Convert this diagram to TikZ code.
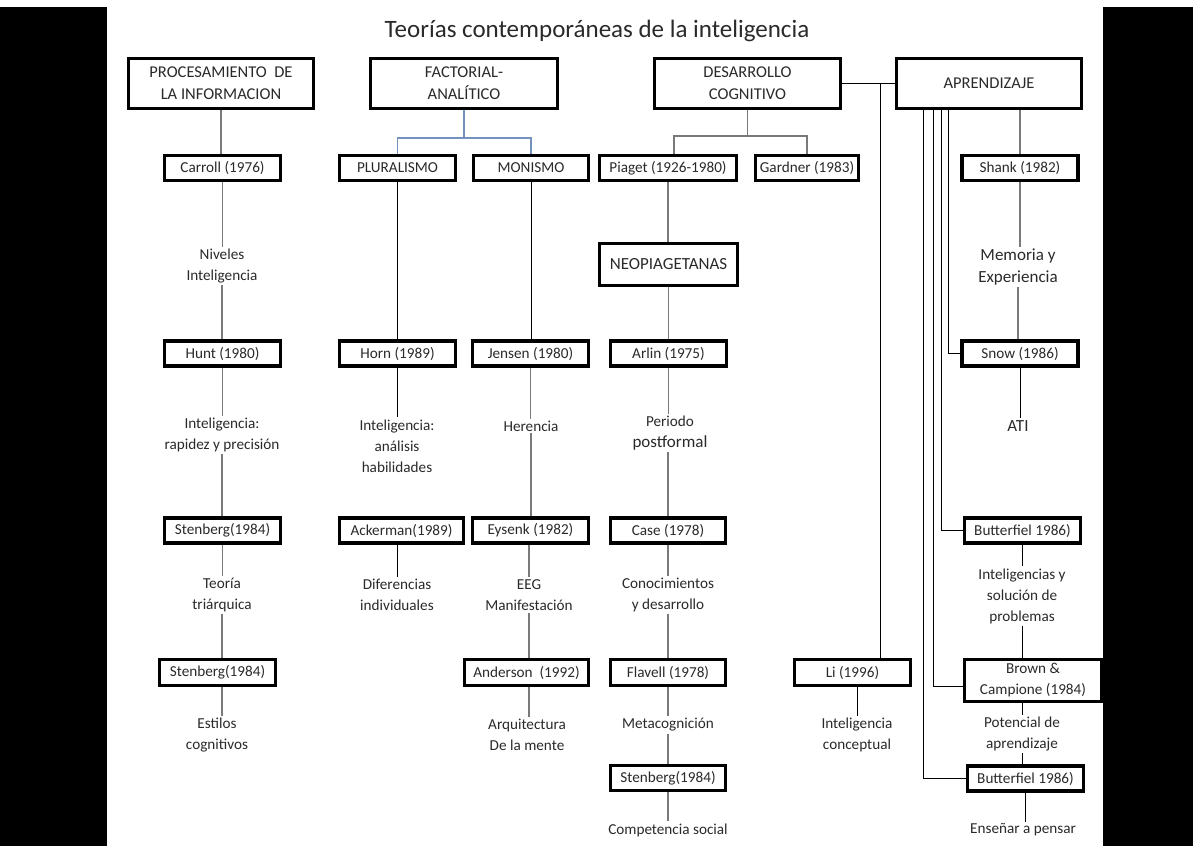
\documentclass[tikz,border=0pt]{standalone}
\usepackage{fontspec}
\setmainfont{Carlito}
\definecolor{txt}{HTML}{2A2A2A}
\definecolor{gl}{HTML}{7A7A7A}
\definecolor{bl}{HTML}{7392BC}
\begin{document}
\begin{tikzpicture}[x=1pt,y=-1pt,
 box/.style={draw=black,line width=3.2pt,inner sep=0pt,align=center,text=txt,font=\fontsize{15.2}{21}\selectfont},
 hbox/.style={box,font=\fontsize{16.5}{22}\selectfont,minimum height=50},
 rowbox/.style={box,minimum height=25},
 lbl/.style={inner sep=2pt,align=center,text=txt,font=\fontsize{15.2}{21}\selectfont},
 bigf/.style={font=\fontsize{17}{22}\selectfont},
 gline/.style={draw=gl,line width=1.2pt},
 kline/.style={draw=black,line width=0.9pt},
 bline/.style={draw=bl,line width=1.2pt}]
\useasboundingbox (0,0) rectangle (1193,846);
\fill[white] (0,0) rectangle (1193,846);

\node[text=txt,font=\fontsize{25}{30}\selectfont] (title) at (597,31) {Teorías contemporáneas de la inteligencia};

% headers
\node[hbox,minimum width=185] (proc) at (221,83.5) {PROCESAMIENTO\ \ DE\\LA INFORMACION};
\node[hbox,minimum width=187] (fact) at (464,83.5) {FACTORIAL-\\ANALÍTICO};
\node[hbox,minimum width=186] (desa) at (747.5,83.5) {DESARROLLO\\COGNITIVO};
\node[hbox,minimum width=185] (apre) at (989,83.5) {APRENDIZAJE};

% row 1
\node[rowbox,minimum width=116] (carroll) at (222.5,168) {Carroll (1976)};
\node[rowbox,minimum width=116] (plur) at (397.5,168) {PLURALISMO};
\node[rowbox,minimum width=115] (mon) at (531,168) {MONISMO};
\node[rowbox,minimum width=137] (piaget) at (668,168) {Piaget (1926-1980)};
\node[rowbox,minimum width=103] (gardner) at (807,168) {Gardner (1983)};
\node[rowbox,minimum width=116] (shank) at (1020,168) {Shank (1982)};

\node[box,minimum width=138,minimum height=42,bigf] (neo) at (668.5,264.5) {NEOPIAGETANAS};

% row 2
\node[rowbox,minimum width=116] (hunt) at (222.5,353.5) {Hunt (1980)};
\node[rowbox,minimum width=116] (horn) at (397.5,353.5) {Horn (1989)};
\node[rowbox,minimum width=116] (jen) at (530.5,353.5) {Jensen (1980)};
\node[rowbox,minimum width=116] (arlin) at (668.5,353.5) {Arlin (1975)};
\node[rowbox,minimum width=116] (snow) at (1020,353.5) {Snow (1986)};

% row 3
\node[rowbox,minimum width=116] (sten1) at (222.5,530.5) {Stenberg(1984)};
\node[rowbox,minimum width=124] (ack) at (401.5,530.5) {Ackerman(1989)};
\node[rowbox,minimum width=116] (eys) at (530.5,530.5) {Eysenk (1982)};
\node[rowbox,minimum width=115] (case) at (668,530.5) {Case (1978)};
\node[rowbox,minimum width=116] (butt1) at (1022.5,530.5) {Butterfiel 1986)};

% row 4
\node[rowbox,minimum width=116,minimum height=26] (sten2) at (217.5,672.5) {Stenberg(1984)};
\node[rowbox,minimum width=124,minimum height=26] (and) at (526.5,672.5) {Anderson\ \ (1992)};
\node[rowbox,minimum width=115,minimum height=26] (flav) at (668,672.5) {Flavell (1978)};
\node[rowbox,minimum width=116,minimum height=26] (li) at (852.5,672.5) {Li (1996)};
\node[box,minimum width=137,minimum height=42] (brown) at (1033,680.5) {Brown \&\\Campione (1984)};

\node[rowbox,minimum width=115] (sten3) at (668,778) {Stenberg(1984)};
\node[rowbox,minimum width=116] (butt2) at (1025.5,778.5) {Butterfiel 1986)};

% labels
\node[lbl] (niv) at (222,266) {Niveles\\Inteligencia};
\node[lbl] (int1) at (222,435) {Inteligencia:\\rapidez y precisión};
\node[lbl] (teo) at (222,595) {Teoría\\triárquica};
\node[lbl] (est) at (217,735) {Estilos\\cognitivos};
\node[lbl] (ihab) at (397,446) {Inteligencia:\\análisis\\habilidades};
\node[lbl] (dif) at (397,595) {Diferencias\\individuales};
\node[lbl] (her) at (531,426) {Herencia};
\node[lbl] (eeg) at (529,595) {EEG\\Manifestación};
\node[lbl] (arq) at (527,735) {Arquitectura\\De la mente};
\node[lbl] (per) at (670,433) {Periodo\\\fontsize{17}{21}\selectfont postformal};
\node[lbl] (cono) at (668,595) {Conocimientos\\y desarrollo};
\node[lbl] (meta) at (668,725) {Metacognición};
\node[lbl] (comp) at (668,830) {Competencia social};
\node[lbl] (icon) at (857,735) {Inteligencia\\conceptual};
\node[lbl,bigf] (mem) at (1018,267) {Memoria y\\Experiencia};
\node[lbl,bigf] (ati) at (1018,426) {ATI};
\node[lbl] (intsol) at (1022,596) {Inteligencias y\\solución de\\problemas};
\node[lbl] (pot) at (1022,734) {Potencial de\\aprendizaje};
\node[lbl] (ens) at (1023,830) {Enseñar a pensar};

% column 1
\draw[gline] (proc.south) -- (proc.south |- carroll.north);
\draw[gline] (carroll.south) -- (carroll.south |- niv.north);
\draw[gline] (niv.south) -- (niv.south |- hunt.north);
\draw[gline] (hunt.south) -- (hunt.south |- int1.north);
\draw[gline] (int1.south) -- (int1.south |- sten1.north);
\draw[gline] (sten1.south) -- (sten1.south |- teo.north);
\draw[gline] (teo.south) -- (teo.south |- sten2.north);
\draw[gline] (teo.south |- sten2.south) -- (teo.south |- est.north);

% column 2
\coordinate (fj) at (465,138);
\draw[bline] (fact.south) -- (fact.south |- fj);
\draw[bline] (plur.north) |- (fj) -| (mon.north);
\draw[kline] (plur.south) -- (plur.south |- horn.north);
\draw[kline] (horn.south) -- (horn.south |- ihab.north);
\draw[kline] (dif.north |- ack.south) -- (dif.north);

% column 3
\draw[kline] (mon.south) -- (mon.south |- jen.north);
\draw[gline] (jen.south) -- (jen.south |- her.north);
\draw[gline] (her.south) -- (her.south |- eys.north);
\draw[gline] (eeg.north |- eys.south) -- (eeg.north);
\draw[gline] (eeg.south) -- (eeg.south |- and.north);
\draw[gline] (eeg.south |- and.south) -- (eeg.south |- arq.north);

% column 4
\coordinate (dj) at (746,136);
\draw[gline] (desa.south) -- (desa.south |- dj);
\draw[gline] ([xshift=6pt]piaget.north) |- (dj) -| (gardner.north);
\draw[gline] (piaget.south) -- (piaget.south |- neo.north);
\draw[gline] (neo.south) -- (neo.south |- arlin.north);
\draw[gline] (arlin.south) -- (arlin.south |- per.north);
\draw[gline] (per.south -| case.north) -- (case.north);
\draw[gline] (case.south) -- (case.south |- cono.north);
\draw[gline] (cono.south) -- (cono.south |- flav.north);
\draw[gline] (flav.south) -- (flav.south |- meta.north);
\draw[gline] (meta.south) -- (meta.south |- sten3.north);
\draw[gline] (sten3.south) -- (sten3.south |- comp.north);

% desarrollo - aprendizaje - Li
\draw[kline] (desa.east) -- (apre.west);
\coordinate (dl) at (880,83.5);
\draw[kline] (dl) -- (dl |- li.north);
\draw[kline] (icon.north |- li.south) -- (icon.north);

% aprendizaje
\draw[gline] (shank.north |- apre.south) -- (shank.north);
\draw[gline] (shank.south) -- (shank.south |- mem.north);
\draw[gline] (mem.south) -- (mem.south |- snow.north);
\draw[kline] (snow.south) -- (snow.south |- ati.north);
\draw[kline] ([xshift=-41pt]apre.south) |- (snow.west);
\draw[kline] ([xshift=-48pt]apre.south) |- (butt1.west);
\draw[kline] ([xshift=-56pt]apre.south) |- ([yshift=-5.5pt]brown.west);
\draw[kline] ([xshift=-66pt]apre.south) |- (butt2.west);
\draw[kline] (butt1.south) -- (butt1.south |- intsol.north);
\draw[kline] (intsol.south) -- (intsol.south |- brown.north);
\draw[kline] (pot.north |- brown.south) -- (pot.north);
\draw[kline] (pot.south) -- (pot.south |- butt2.north);
\draw[kline] (butt2.south) -- (butt2.south |- ens.north);

% side bars
\fill[black] (0,7) rectangle (107,846);
\fill[black] (1103,7) rectangle (1193,846);
\end{tikzpicture}
\end{document}
